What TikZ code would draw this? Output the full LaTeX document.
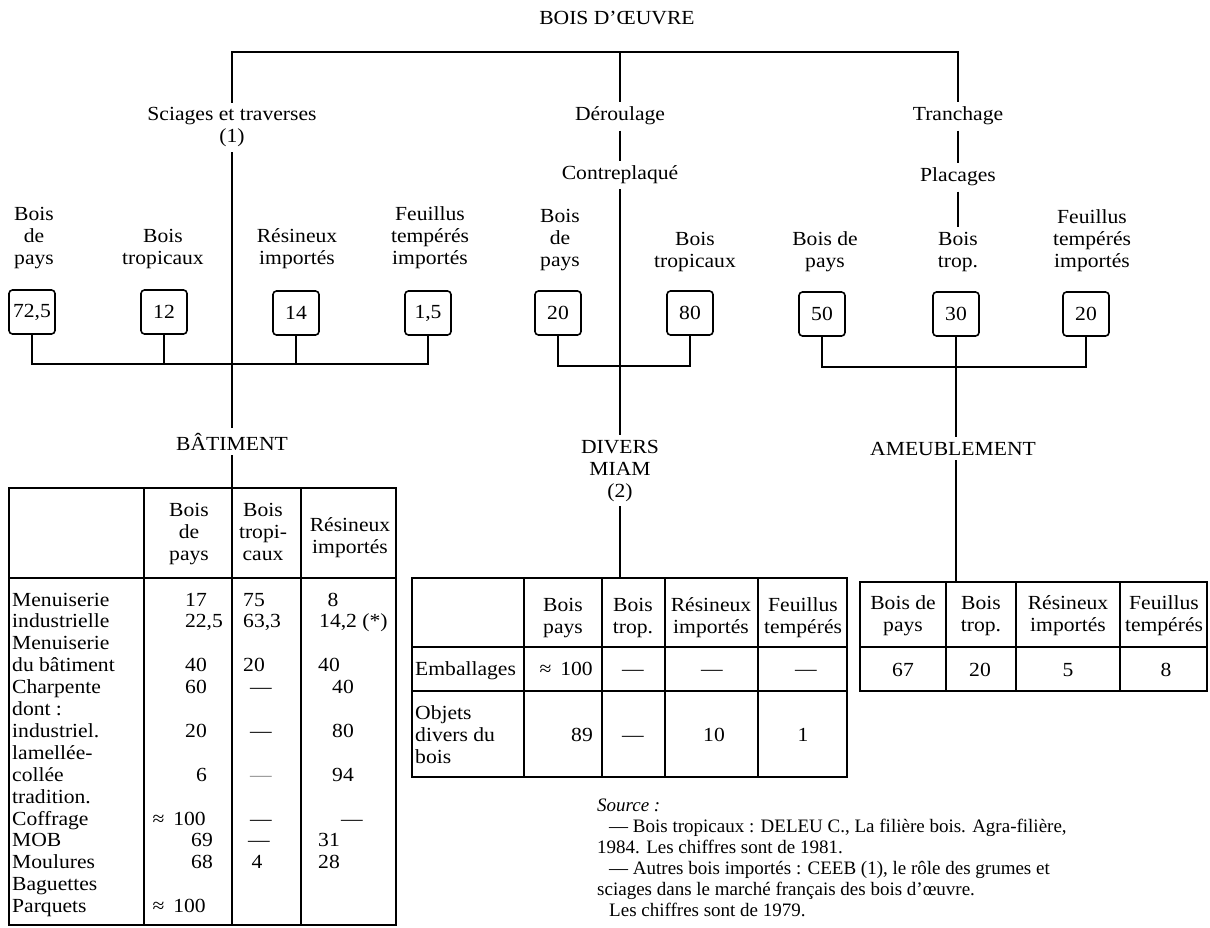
\documentclass[tikz,border=0pt]{standalone}
\usepackage{fontspec}
\setmainfont[FakeStretch=1.08]{Liberation Serif}
\newfontfamily\srcfont{Liberation Serif}
\tikzset{
  ln/.style={line width=1.5pt},
  tln/.style={line width=1.2pt},
  lbl/.style={inner xsep=0pt, inner ysep=5pt, align=center, font=\fontsize{20}{22}\selectfont},
  txt/.style={inner sep=0pt, font=\fontsize{20}{22}\selectfont},
  hd/.style={inner sep=0pt, align=center, anchor=base, font=\fontsize{20}{22}\selectfont},
  valbox/.style={draw, line width=1.6pt, rounded corners=3.5pt, minimum width=46pt, minimum height=44pt, inner sep=0pt, font=\fontsize{20}{22}\selectfont},
  src/.style={inner sep=0pt, anchor=base west, font=\srcfont\fontsize{19}{22}\selectfont},
}
\begin{document}
\begin{tikzpicture}[x=1pt,y=-1pt]
\useasboundingbox (0,0) rectangle (1210,928);
% ---------- top ----------
\node[txt, anchor=base] (title) at (617,25) {BOIS D’ŒUVRE};
\coordinate (bar) at (620,52);
\node[lbl, anchor=base] (sci) at (232,143) {Sciages et traverses\\(1)};
\node[lbl, anchor=base] (der) at (620,121) {Déroulage};
\node[lbl, anchor=base] (con) at (620,180) {Contreplaqué};
\node[lbl, anchor=base] (tra) at (958,121) {Tranchage};
\node[lbl, anchor=base] (pla) at (958,182) {Placages};
\draw[ln] (sci.north) -- (sci.north |- bar) -- (tra.north |- bar) -- (tra.north);
\draw[ln] (der.north) -- (der.north |- bar);
\draw[ln] (der.south) -- (con.north);
\draw[ln] (tra.south) -- (pla.north);
% ---------- origin labels (anchor = baseline of last line) ----------
\node[lbl, anchor=base] (l1) at (34,265) {Bois\\de\\pays};
\node[lbl, anchor=base] (l2) at (163,265) {Bois\\tropicaux};
\node[lbl, anchor=base] (l3) at (297,265) {Résineux\\importés};
\node[lbl, anchor=base] (l4) at (430,265) {Feuillus\\tempérés\\importés};
\node[lbl, anchor=base] (l5) at (560,266) {Bois\\de\\pays};
\node[lbl, anchor=base] (l6) at (695,267) {Bois\\tropicaux};
\node[lbl, anchor=base] (l7) at (825,267) {Bois de\\pays};
\node[lbl, anchor=base] (l8) at (958,267) {Bois\\trop.};
\node[lbl, anchor=base] (l9) at (1092,267) {Feuillus\\tempérés\\importés};
\draw[ln] (pla.south) -- (l8.north);
% ---------- boxes ----------
\node[valbox] (b1) at (32,312) {72,5};
\node[valbox] (b2) at (164,312) {12};
\node[valbox] (b3) at (296,313) {14};
\node[valbox] (b4) at (428,313) {1,5};
\node[valbox] (b5) at (558,313) {20};
\node[valbox] (b6) at (690,313) {80};
\node[valbox] (b7) at (822,314) {50};
\node[valbox] (b8) at (956,314) {30};
\node[valbox] (b9) at (1086,314) {20};
\coordinate (j1) at (232,364);
\coordinate (j2) at (620,366);
\coordinate (j3) at (956,367);
\draw[ln] (b1.south) |- (b4.south |- j1) -- (b4.south);
\draw[ln] (b2.south) -- (b2.south |- j1);
\draw[ln] (b3.south) -- (b3.south |- j1);
\draw[ln] (b5.south) |- (b6.south |- j2) -- (b6.south);
\draw[ln] (b7.south) |- (b9.south |- j3) -- (b9.south);
% ---------- sectors ----------
\node[lbl, anchor=base] (bat) at (232,450) {BÂTIMENT};
\node[lbl, anchor=base] (div) at (620,497) {DIVERS\\MIAM\\(2)};
\node[lbl, anchor=base] (ame) at (953,455) {AMEUBLEMENT};
\coordinate (lt) at (232,488);
\coordinate (mt) at (620,578);
\coordinate (rt) at (956,582);
\draw[ln] (sci.south) -- (bat.north);
\draw[ln] (bat.south) -- (lt);
\draw[ln] (con.south) -- (div.north);
\draw[ln] (div.south) -- (mt);
\draw[ln] (b8.south) -- (b8.south |- ame.north);
\draw[ln] (b8.south |- ame.south) -- (rt);
% ---------- left table ----------
\draw[tln] (9,488) rectangle (396,925);
\draw[tln] (9,578) -- (396,578);
\foreach \x in {144,232,301} \draw[tln] (\x,488) -- (\x,925);
\node[hd] (h1) at (189,560) {Bois\\de\\pays};
\node[hd] (h2) at (263,560) {Bois\\tropi-\\caux};
\node[hd] (h3) at (350,553) {Résineux\\importés};
\foreach \t [count=\i from 0] in {Menuiserie,industrielle,Menuiserie,du bâtiment,Charpente,dont :,industriel.,lamellée-,collée,tradition.,Coffrage,MOB,Moulures,Baguettes,Parquets}
  \node[txt, anchor=base west] (r\i) at (12,{606+21.9*\i}) {\t};
\def\ry#1{{606+21.9*#1}}
% col 1
\node[txt, anchor=base east] (a0) at (207,\ry{0}) {17};
\node[txt, anchor=base east] (a1) at (223,\ry{1}) {22,5};
\node[txt, anchor=base east] (a3) at (207,\ry{3}) {40};
\node[txt, anchor=base east] (a4) at (207,\ry{4}) {60};
\node[txt, anchor=base east] (a6) at (207,\ry{6}) {20};
\node[txt, anchor=base east] (a8) at (207,\ry{8}) {6};
\node[txt, anchor=base east] (a10) at (206,\ry{10}) {≈\hspace{9pt}100};
\node[txt, anchor=base east] (a11) at (213,\ry{11}) {69};
\node[txt, anchor=base east] (a12) at (213,\ry{12}) {68};
\node[txt, anchor=base east] (a14) at (206,\ry{14}) {≈\hspace{9pt}100};
% col 2
\node[txt, anchor=base west] (c0) at (243,\ry{0}) {75};
\node[txt, anchor=base west] (c1) at (243,\ry{1}) {63,3};
\node[txt, anchor=base west] (c3) at (243,\ry{3}) {20};
\node[txt, anchor=base] (c4) at (261,\ry{4}) {—};
\node[txt, anchor=base] (c6) at (261,\ry{6}) {—};
\node[txt, anchor=base, text=black!45] (c8) at (261,\ry{8}) {—};
\node[txt, anchor=base] (c10) at (261,\ry{10}) {—};
\node[txt, anchor=base] (c11) at (259,\ry{11}) {—};
\node[txt, anchor=base] (c12) at (257,\ry{12}) {4};
% col 3
\node[txt, anchor=base] (d0) at (333,\ry{0}) {8};
\node[txt, anchor=base west] (d1) at (319,\ry{1}) {14,2 (*)};
\node[txt, anchor=base west] (d3) at (318,\ry{3}) {40};
\node[txt, anchor=base] (d4) at (343,\ry{4}) {40};
\node[txt, anchor=base] (d6) at (343,\ry{6}) {80};
\node[txt, anchor=base] (d8) at (343,\ry{8}) {94};
\node[txt, anchor=base] (d10) at (352,\ry{10}) {—};
\node[txt, anchor=base west] (d11) at (318,\ry{11}) {31};
\node[txt, anchor=base west] (d12) at (318,\ry{12}) {28};
% ---------- middle table ----------
\draw[tln] (412,578) rectangle (847,777);
\draw[tln] (412,647) -- (847,647);
\draw[tln] (412,691) -- (847,691);
\foreach \x in {524,602,665,758} \draw[tln] (\x,578) -- (\x,777);
\node[hd] (m1) at (563,633) {Bois\\pays};
\node[hd] (m2) at (633,633) {Bois\\trop.};
\node[hd] (m3) at (711,633) {Résineux\\importés};
\node[hd] (m4) at (803,633) {Feuillus\\tempérés};
\node[txt, anchor=base west] (mr1) at (415,675) {Emballages};
\node[txt, anchor=base east] (mv1) at (593,675) {≈\hspace{9pt}100};
\node[txt, anchor=base] (mv2) at (633,675) {—};
\node[txt, anchor=base] (mv3) at (712,675) {—};
\node[txt, anchor=base] (mv4) at (806,675) {—};
\node[txt, anchor=base west, align=left] (mr2) at (415,763) {Objets\\divers du\\bois};
\node[txt, anchor=base east] (mw1) at (593,741) {89};
\node[txt, anchor=base] (mw2) at (633,741) {—};
\node[txt, anchor=base] (mw3) at (714,741) {10};
\node[txt, anchor=base] (mw4) at (803,741) {1};
% ---------- right table ----------
\draw[tln] (860,582) rectangle (1207,691);
\draw[tln] (860,647) -- (1207,647);
\foreach \x in {946,1016,1120} \draw[tln] (\x,582) -- (\x,691);
\node[hd] (n1) at (903,631) {Bois de\\pays};
\node[hd] (n2) at (981,631) {Bois\\trop.};
\node[hd] (n3) at (1068,631) {Résineux\\importés};
\node[hd] (n4) at (1164,631) {Feuillus\\tempérés};
\node[txt, anchor=base] (nv1) at (903,676) {67};
\node[txt, anchor=base] (nv2) at (980,676) {20};
\node[txt, anchor=base] (nv3) at (1068,676) {5};
\node[txt, anchor=base] (nv4) at (1166,676) {8};
% ---------- source ----------
\node[src] (s0) at (597,811) {\itshape Source :};
\node[src] (s1) at (609,832) {— Bois tropicaux : DELEU C., La filière bois. Agra-filière,};
\node[src] (s2) at (597,853) {1984. Les chiffres sont de 1981.};
\node[src] (s3) at (609,874) {— Autres bois importés : CEEB (1), le rôle des grumes et};
\node[src] (s4) at (597,895) {sciages dans le marché français des bois d’œuvre.};
\node[src] (s5) at (609,916) {Les chiffres sont de 1979.};
\end{tikzpicture}
\end{document}
